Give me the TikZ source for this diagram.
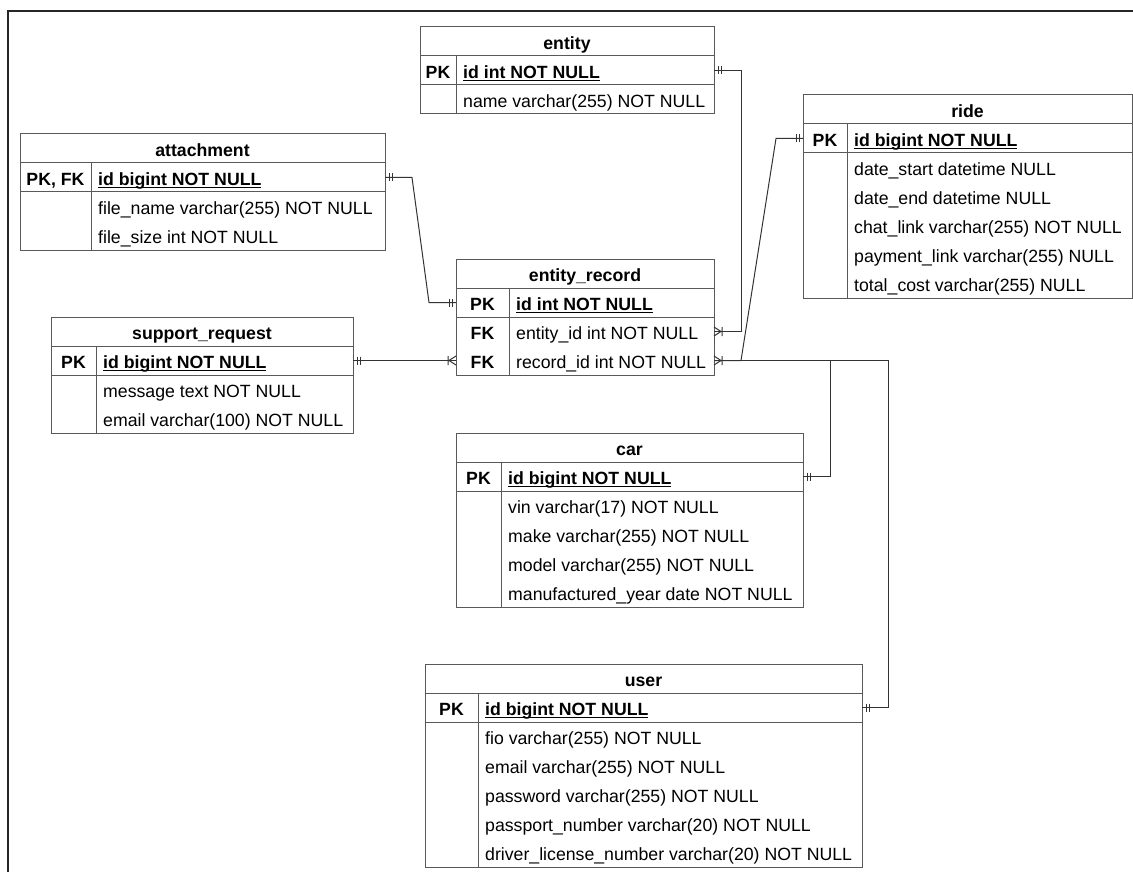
\documentclass[tikz,border=0pt]{standalone}
\usepackage{fontspec}
\setmainfont{Liberation Sans}
\usepackage{tikz}
\newcommand{\erfont}{\fontsize{17.7pt}{21pt}\selectfont}
\newcommand{\pkfield}[1]{\setbox0\hbox{\bfseries #1}\rlap{\rule[-3pt]{\wd0}{1.5pt}}\box0}
\tikzset{
    ertitle/.style = {draw=black!65, line width=1pt, minimum height=29pt, inner sep=0pt, outer sep=0pt, text height=15.7pt, text depth=0pt, font=\erfont\bfseries},
    errow/.style = {draw=black!65, line width=1pt, minimum height=29pt, inner sep=0pt, outer sep=0pt},
    erslot/.style = {minimum height=29pt, inner sep=0pt, outer sep=0pt},
    erkey/.style = {inner sep=0pt, text height=15.2pt, text depth=0pt, font=\erfont\bfseries},
    erfield/.style = {anchor=west, inner sep=0pt, text height=15.2pt, text depth=0pt, font=\erfont},
    erline/.style = {draw=black!65, line width=1pt},
    erlink/.style = {draw=black!80, line width=1pt},
    erone/.pic = {\draw[erlink] (4,-4) -- (4,4) (7,-4) -- (7,4);},
    ermany/.pic = {\draw[erlink] (0,-4.5) -- (7,0) -- (0,4.5) (8,-4.5) -- (8,4.5);}
}
% name, left, top, width, key width, title, key, pk field, rows
\newcommand{\ertab}[9]{%
    \node[ertitle, minimum width=#4pt] (#1) at (#2+#4/2, #3+14.5) {#6};
    \node[errow, minimum width=#4pt] (#1-pk) at (#2+#4/2, #3+43.5) {};
    \node[erkey] (#1-pkkey) at (#2+#5/2, #3+43.5) {#7};
    \node[erfield] (#1-pkname) at (#2+#5+7, #3+43.5) {\pkfield{#8}};
    \foreach [count=\i] \k/\f in {#9} {
        \node[erslot, minimum width=#4pt] (#1-r\i) at (#2+#4/2, #3+43.5+29*\i) {};
        \node[erkey] (#1-key\i) at (#2+#5/2, #3+43.5+29*\i) {\k};
        \node[erfield] (#1-name\i) at (#2+#5+7, #3+43.5+29*\i) {\f};
        \xdef\errows{\i}
    }
    \draw[erline] (#1-pk.south west) rectangle (#2+#4, #3+58+29*\errows);
    \draw[erline] (#2+#5, #3+29) -- (#2+#5, #3+58+29*\errows);
}

\begin{document}
\begin{tikzpicture}[x=1pt, y=-1pt]
    \useasboundingbox (0,0) rectangle (1133,872);
    \draw[line width=2pt, black!85] (1133,11) -- (8,11) -- (8,872);

    \ertab{entity}{420}{27}{294}{36}{entity}{PK}{id int NOT NULL}
        {/name varchar(255) NOT NULL}
    \ertab{att}{20}{134}{365}{71}{attachment}{PK, FK}{id bigint NOT NULL}
        {/file\_name varchar(255) NOT NULL, /file\_size int NOT NULL}
    \ertab{ride}{803}{95}{329}{44}{ride}{PK}{id bigint NOT NULL}
        {/date\_start datetime NULL, /date\_end datetime NULL, /chat\_link varchar(255) NOT NULL,
         /payment\_link varchar(255) NULL, /total\_cost varchar(255) NULL}
    \ertab{sr}{51}{317}{302}{45}{support\_request}{PK}{id bigint NOT NULL}
        {/message text NOT NULL, /email varchar(100) NOT NULL}
    \ertab{er}{456}{259}{258}{53}{entity\_record}{PK}{id int NOT NULL}
        {FK/entity\_id int NOT NULL, FK/record\_id int NOT NULL}
    \ertab{car}{456}{433}{347}{45}{car}{PK}{id bigint NOT NULL}
        {/vin varchar(17) NOT NULL, /make varchar(255) NOT NULL, /model varchar(255) NOT NULL,
         /manufactured\_year date NOT NULL}
    \ertab{user}{425}{664}{437}{53}{user}{PK}{id bigint NOT NULL}
        {/fio varchar(255) NOT NULL, /email varchar(255) NOT NULL, /password varchar(255) NOT NULL,
         /passport\_number varchar(20) NOT NULL, /driver\_license\_number varchar(20) NOT NULL}

    \draw[erlink] (entity-pk.east) -- ++(27,0) |- (er-r1.east);
    \draw[erlink] (att-pk.east) -- ++(27,0) -- ([xshift=-27pt]er-pk.west) -- (er-pk.west);
    \draw[erlink] (sr-pk.east) -- (er-r2.west);
    \draw[erlink] (ride-pk.west) -- ++(-27,0) -- ([xshift=27pt]er-r2.east) -- (er-r2.east);
    \draw[erlink] (car-pk.east) -- ++(27,0) |- (er-r2.east);
    \draw[erlink] (user-pk.east) -- ++(26,0) |- (er-r2.east);

    \pic at (entity-pk.east) {erone};
    \pic at (er-r1.east) {ermany};
    \pic at (att-pk.east) {erone};
    \pic[rotate=180] at (er-pk.west) {erone};
    \pic at (sr-pk.east) {erone};
    \pic[rotate=180] at (er-r2.west) {ermany};
    \pic[rotate=180] at (ride-pk.west) {erone};
    \pic at (er-r2.east) {ermany};
    \pic at (car-pk.east) {erone};
    \pic at (user-pk.east) {erone};
\end{tikzpicture}
\end{document}
